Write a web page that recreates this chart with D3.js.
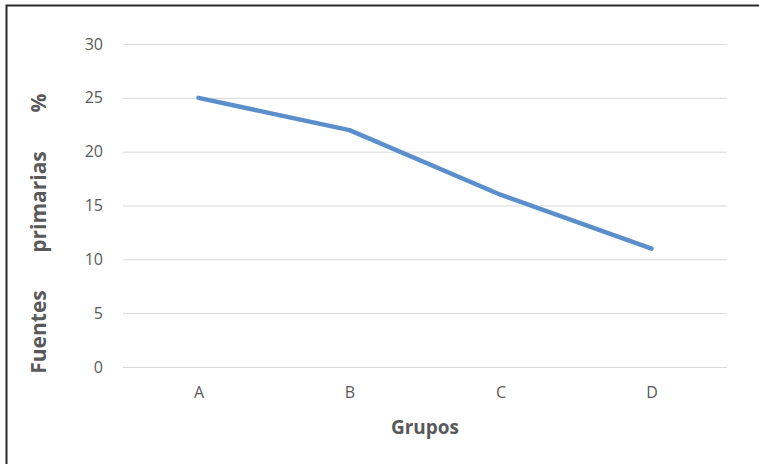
<!DOCTYPE html>
<html><head><meta charset="utf-8">
<script src="https://cdn.jsdelivr.net/npm/d3@7"></script>
<style>
html,body{margin:0;padding:0;background:#fff;}
svg{display:block;}
</style></head>
<body>
<svg id="chart" width="759" height="464"></svg>
<script>
const categories = ["A", "B", "C", "D"];
const values = [25, 22, 16, 11];
const yTicks = [0, 5, 10, 15, 20, 25, 30];
const xTitle = "Grupos";
const yTitleParts = ["Fuentes", "primarias", "%"];

const svg = d3.select("#chart");
const W = 759, H = 464;
const plot = {left: 123, right: 727, top: 44, bottom: 367};

svg.append("rect").attr("width", W).attr("height", H).attr("fill", "#fff");
// cropped frame: only top and left visible
svg.append("path").attr("d", `M6.5,${H} V5.5 H${W}`)
  .attr("fill", "none").attr("stroke", "#2b2b2b").attr("stroke-width", 2);

const x = d3.scalePoint().domain(categories).range([plot.left, plot.right]).padding(0.5);
const y = d3.scaleLinear().domain([0, 30]).range([plot.bottom, plot.top]);

// gridlines
const yAxis = d3.axisLeft(y).tickValues(yTicks).tickSize(-(plot.right - plot.left)).tickPadding(20);
const gy = svg.append("g").attr("transform", `translate(${plot.left},0)`).call(yAxis);
gy.select(".domain").remove();
gy.selectAll(".tick line").attr("stroke", "#d9d9d9").attr("stroke-width", 1);
gy.selectAll(".tick text").attr("fill", "#595959").attr("font-family", "'Open Sans', sans-serif").attr("font-size", 16);

const xAxis = d3.axisBottom(x).tickSize(0).tickPadding(20);
const gx = svg.append("g").attr("transform", `translate(0,${plot.bottom})`).call(xAxis);
gx.select(".domain").remove();
gx.selectAll(".tick text").attr("fill", "#595959").attr("font-family", "'Open Sans', sans-serif").attr("font-size", 16);

// line
const line = d3.line().x((d, i) => x(categories[i])).y(d => y(d));
svg.append("path").datum(values).attr("d", line)
  .attr("fill", "none").attr("stroke", "#5b8fcc").attr("stroke-width", 4.5)
  .attr("stroke-linecap", "round").attr("stroke-linejoin", "round");

// titles
svg.append("text").attr("x", (plot.left + plot.right) / 2).attr("y", 434)
  .attr("text-anchor", "middle").attr("font-family", "'Open Sans', sans-serif")
  .attr("font-weight", "bold").attr("font-size", 19).attr("fill", "#595959").text(xTitle);

const yCenters = [332, 202, 103];
yTitleParts.forEach((t, i) => {
  svg.append("text").attr("transform", `translate(46,${yCenters[i]}) rotate(-90)`)
    .attr("text-anchor", "middle").attr("font-family", "'Open Sans', sans-serif")
    .attr("font-weight", "bold").attr("font-size", 21).attr("fill", "#595959").text(t);
});
</script>
</body></html>
